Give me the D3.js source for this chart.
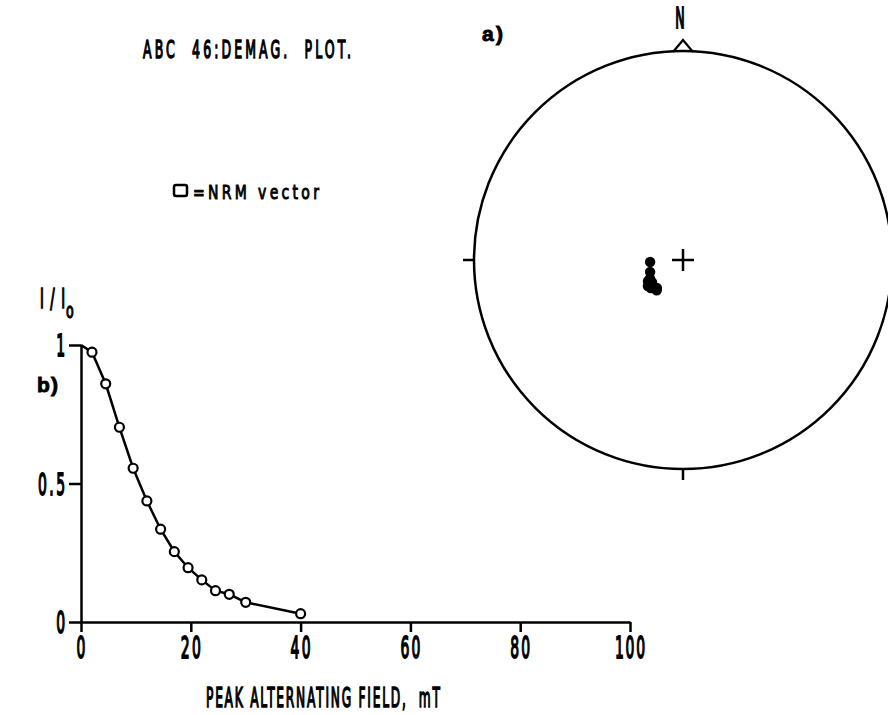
<!DOCTYPE html>
<html>
<head>
<meta charset="utf-8">
<script src="https://cdn.jsdelivr.net/npm/d3@7"></script>
<style>
body { margin: 0; background: #fff; }
svg { display: block; background: #fff; }
text { font-family: 'DejaVu Sans', 'Liberation Sans', sans-serif; fill: #000; white-space: pre; }
</style>
</head>
<body>
<svg id="chart" width="888" height="715"></svg>
<script>
// b) demagnetisation curve
var fieldMT = [0, 2, 4.5, 7, 9.5, 12, 14.5, 17, 19.5, 22, 24.5, 27, 30, 40];
var intensity = [1, 0.974, 0.86, 0.703, 0.555, 0.437, 0.335, 0.254, 0.196, 0.152, 0.113, 0.1, 0.071, 0.03];
var xTicks = [0, 20, 40, 60, 80, 100];
var yTicks = [0, 0.5, 1];
var yTickLabels = ["0", "0.5", "1"];

// a) stereonet directions (declination, inclination)
var stereoDec = [266.5, 250, 241, 239, 234.5, 233.5, 227, 223, 234, 229, 221];
var stereoInc = [77.2, 76.4, 75.3, 74.1, 75.2, 73, 74, 75.1, 74.1, 73.4, 74.4];

var titleText = "ABC  46:DEMAG.  PLOT.";
var legendText = "=NRM vector";
var xLabel = "PEAK ALTERNATING FIELD,  mT";

var svg = d3.select("#chart");
var ink = "#000";

// plotter-like lettering: narrow glyphs, width forced to what the picture shows
function label(s, x, y, fs, len, opts) {
  opts = opts || {};
  var sx = opts.sx || 0.6;
  var t = svg.append("text")
    .attr("transform", "translate(" + x + "," + y + ") scale(" + sx + ",1)")
    .attr("font-size", fs)
    .attr("font-weight", opts.weight || "normal")
    .attr("text-anchor", opts.anchor || "start")
    .attr("stroke", ink).attr("stroke-width", opts.sw == null ? 1.2 : opts.sw)
    .attr("vector-effect", "non-scaling-stroke")
    .text(s);
  if (opts.family) t.style("font-family", opts.family);
  if (len) {
    var natural = t.node().getComputedTextLength() * sx;
    t.attr("textLength", len / sx)
      .attr("lengthAdjust", natural > len ? "spacingAndGlyphs" : "spacing");
  }
  return t;
}

// ---- b) plot ----
var x = d3.scaleLinear().domain([0, 100]).range([81, 630]);
var y = d3.scaleLinear().domain([0, 1]).range([622, 345]);

var xAxis = svg.append("g").attr("transform", "translate(0," + y(0) + ")")
  .call(d3.axisBottom(x).tickValues(xTicks).tickSize(10).tickSizeOuter(0).tickFormat(""));
var yAxis = svg.append("g").attr("transform", "translate(" + x(0) + ",0)")
  .call(d3.axisLeft(y).tickValues(yTicks).tickSize(12).tickSizeOuter(0).tickFormat(""));

[xAxis, yAxis].forEach(a => {
  a.select(".domain").attr("stroke", ink).attr("stroke-width", 2.5);
  a.selectAll(".tick line").attr("stroke", ink).attr("stroke-width", 2.5);
  a.selectAll(".tick text").remove();
});

xTicks.forEach(d => {
  var s = d3.format("d")(d);
  label(s, x(d), y(0) + 36, 31, s.length * 10, { anchor: "middle", sx: 0.45, sw: 1.4 });
});
yTicks.forEach((d, i) => {
  var s = yTickLabels[i];
  label(s, x(0) - 16, y(d) + 11, 31, s.length === 1 ? 10 : 27, { anchor: "end", sx: 0.45, sw: 1.4 });
});

var pts = fieldMT.map((f, i) => ({ f: f, v: intensity[i] }));
svg.append("path").datum(pts)
  .attr("d", d3.line().x(d => x(d.f)).y(d => y(d.v)))
  .attr("fill", "none").attr("stroke", ink).attr("stroke-width", 2.5);
svg.selectAll("circle.demag").data(pts.slice(1)).enter().append("circle")
  .attr("class", "demag")
  .attr("cx", d => x(d.f)).attr("cy", d => y(d.v)).attr("r", 4.5)
  .attr("fill", "#fff").attr("stroke", ink).attr("stroke-width", 2.2);

// labels
label(titleText, 143, 58, 25, 208, { sx: 0.5 });
svg.append("rect").attr("x", 174).attr("y", 185).attr("width", 13).attr("height", 11)
  .attr("rx", 2).attr("fill", "none").attr("stroke", ink).attr("stroke-width", 2.5);
label(legendText, 193, 199, 20, 126, { sx: 0.7, sw: 0.9 });
label("I/I", 40, 308, 26, 25, { sx: 0.5, sw: 1.3 });
label("o", 66, 318, 21, 10, { sx: 0.6, sw: 1.1 });
label("b)", 37, 392, 21, 21, { sx: 1, sw: 0.9, weight: "bold", family: "'Liberation Sans', sans-serif" });
label(xLabel, 206, 707, 26, 234, { sx: 0.47 });

// ---- a) stereonet ----
var cx = 683, cy = 260, R = 209;
var rScale = d3.scaleLinear().domain([0, 1]).range([0, R]);
var net = svg.append("g").attr("transform", "translate(" + cx + "," + cy + ")");
net.append("circle").attr("r", R).attr("fill", "none").attr("stroke", ink).attr("stroke-width", 2.5);
net.append("path").attr("d", "M-10," + (-R + 1) + "L0," + (-R - 11) + "L10," + (-R + 1))
  .attr("fill", "none").attr("stroke", ink).attr("stroke-width", 2.2);
net.append("line").attr("x1", -R - 11).attr("x2", -R).attr("stroke", ink).attr("stroke-width", 2.5);
net.append("line").attr("x1", R).attr("x2", R + 11).attr("stroke", ink).attr("stroke-width", 2.5);
net.append("line").attr("y1", R).attr("y2", R + 11).attr("stroke", ink).attr("stroke-width", 2.5);
net.append("line").attr("x1", -11).attr("x2", 11).attr("stroke", ink).attr("stroke-width", 2.5);
net.append("line").attr("y1", -11).attr("y2", 11).attr("stroke", ink).attr("stroke-width", 2.5);

var rad = Math.PI / 180;
var dirs = stereoDec.map((d, i) => {
  var rho = rScale(Math.SQRT2 * Math.sin((90 - stereoInc[i]) / 2 * rad));
  return { x: rho * Math.sin(d * rad), y: -rho * Math.cos(d * rad) };
});
net.selectAll("circle.dir").data(dirs).enter().append("circle")
  .attr("class", "dir").attr("cx", d => d.x).attr("cy", d => d.y).attr("r", 5.2).attr("fill", ink);

label("N", 680, 28, 28, 10, { anchor: "middle", sx: 0.45, sw: 1.4 });
label("a)", 482, 41, 21, 21, { sx: 1, sw: 0.9, weight: "bold", family: "'Liberation Sans', sans-serif" });
</script>
</body>
</html>
